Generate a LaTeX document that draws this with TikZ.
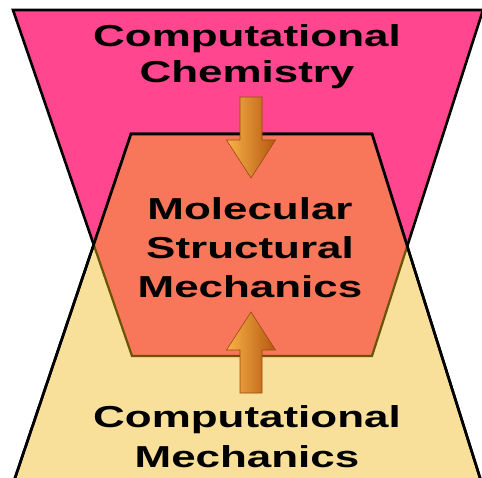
\documentclass[tikz,border=0pt]{standalone}
\usepackage{fontspec}
\newfontfamily\labelfont{Liberation Sans}[FakeStretch=1.45]
\usetikzlibrary{calc}
\definecolor{chemfill}{RGB}{255,70,142}
\definecolor{mechfill}{RGB}{249,224,154}
\definecolor{molfill}{RGB}{248,118,90}
\definecolor{hidedge}{RGB}{105,85,5}
\definecolor{arrlight}{RGB}{250,178,70}
\definecolor{arrmid}{RGB}{238,138,32}
\definecolor{arrdark}{RGB}{180,88,18}
\definecolor{arredge}{RGB}{150,75,15}

\begin{document}
\begin{tikzpicture}[
  x=1pt, y=-1pt,
  every node/.style={font=\labelfont\bfseries},
  %% Shape styles
  field/.style={draw=black, line width=2.6pt, line join=miter},
  hiddenedge/.style={draw=hidedge, line width=2.2pt},
  %% Label style (anchored on the last line's baseline)
  fieldtext/.style={
    align=center, anchor=base, inner sep=0pt, text=black,
    font=\labelfont\bfseries\fontsize{30.3}{#1}\selectfont,
  },
  %% Block arrow
  arrowbody/.style={
    left color=arrlight, middle color=arrmid, right color=arrdark,
    draw=arredge, line width=0.6pt, line join=miter,
  },
  blockarrow/.pic={
    \path[arrowbody] (0,0) -- (-24.5,-38) -- (-11,-38) -- (-11,-81)
      -- (11,-81) -- (11,-38) -- (24.5,-38) -- cycle;
  },
]
\useasboundingbox (0,0) rectangle (482,478);

%% =============================================================
%%  Corner points of the two overlapping trapezoids
%% =============================================================
\coordinate (chem tl) at (13,10);
\coordinate (chem tr) at (483,10);
\coordinate (chem br) at (372,356);
\coordinate (chem bl) at (132,356);

\coordinate (mech tl) at (131,134);
\coordinate (mech tr) at (372,134);
\coordinate (mech br) at (481,481);
\coordinate (mech bl) at (14,481);

%% Chemistry (top) and mechanics (bottom)
\path[field, fill=chemfill] (chem tl) -- (chem tr) -- (chem br) -- (chem bl) -- cycle;
\path[field, fill=mechfill] (mech tl) -- (mech tr) -- (mech br) -- (mech bl) -- cycle;

%% Overlap = molecular structural mechanics
\begin{scope}
  \clip (chem tl) -- (chem tr) -- (chem br) -- (chem bl) -- cycle;
  \fill[molfill] (mech tl) -- (mech tr) -- (mech br) -- (mech bl) -- cycle;
\end{scope}
\begin{scope}
  \clip (mech tl) -- (mech tr) -- (mech br) -- (mech bl) -- cycle;
  \path[hiddenedge] (chem tl) -- (chem tr) -- (chem br) -- (chem bl) -- cycle;
\end{scope}
\path[field] (mech bl) -- (mech tl) -- (mech tr) -- (mech br);

%% =============================================================
%%  Labels
%% =============================================================
\node[fieldtext=36] (chemlabel) at (247,83) {Computational\\Chemistry};
\node[fieldtext=39] (mollabel) at (250,298) {Molecular\\Structural\\Mechanics};
\node[fieldtext=40] (mechlabel) at (247,467) {Computational\\Mechanics};

%% Arrows into the overlap
\pic at (251,178) {blockarrow};
\pic[yscale=-1] at (251,312) {blockarrow};

\end{tikzpicture}
\end{document}
